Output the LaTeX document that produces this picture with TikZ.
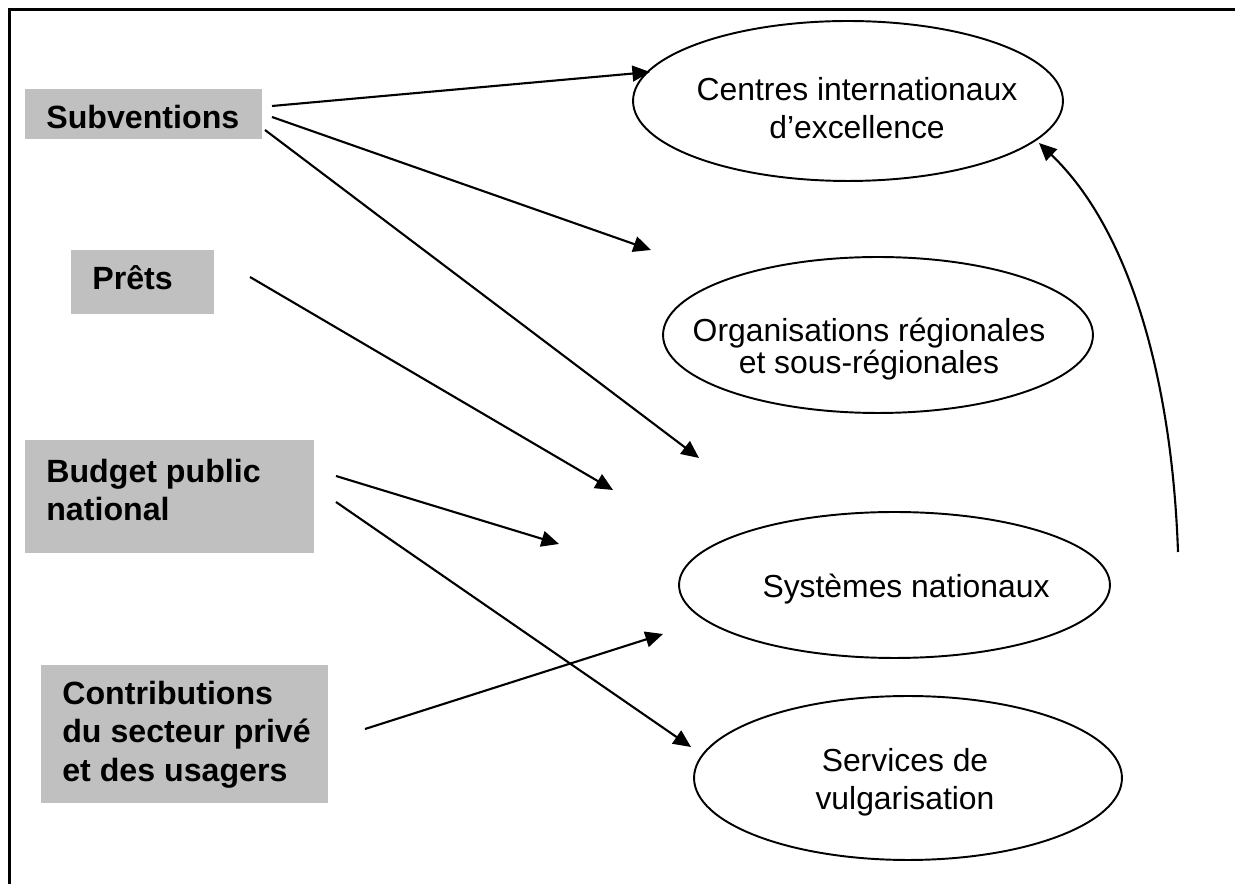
\documentclass[tikz,border=0pt]{standalone}
\usepackage{fontspec}
\setmainfont{Liberation Sans}
\usetikzlibrary{shapes.geometric,arrows.meta}
\definecolor{boxgray}{RGB}{192,192,192}
\tikzset{
  graybox/.style={fill=boxgray, draw=none, inner sep=0pt, outer sep=0pt},
  oval/.style={ellipse, draw=black, line width=1.1pt, inner sep=0pt, fill=white},
  btxt/.style={font=\fontsize{18.3}{21.8}\selectfont\bfseries, align=left, inner sep=0pt},
  otxt/.style={font=\fontsize{18.14}{21.5}\selectfont, align=center, inner sep=0pt},
  arr/.style={line width=1.2pt, -{Triangle[length=10pt,width=9pt]}},
}
\begin{document}
\begin{tikzpicture}[x=0.02cm,y=-0.02cm]
\useasboundingbox (0,0) rectangle (1235,884);
\clip (0,0) rectangle (1235,884);
\draw[line width=1.7pt] (9.5,9.5) rectangle (1260,910);

% gray boxes
\node[graybox, minimum width=4.74cm, minimum height=1.0cm] (sub) at (143.5,114) {};
\node[graybox, minimum width=2.86cm, minimum height=1.28cm] (prets) at (142.5,282) {};
\node[graybox, minimum width=5.78cm, minimum height=2.26cm] (budget) at (169.5,496.5) {};
\node[graybox, minimum width=5.74cm, minimum height=2.76cm] (contrib) at (184.5,734) {};

\node[btxt, anchor=base west] (subT) at (46,129) {Subventions};
\node[btxt, anchor=base west] (pretsT) at (92,290) {Prêts};
\node[btxt, anchor=north west] (budgetT) at (46,459) {Budget public\\national};
\node[btxt, anchor=north west] (contribT) at (62,681) {Contributions\\du secteur privé\\et des usagers};

% ellipses
\node[oval, minimum width=8.6cm, minimum height=3.2cm] (centres) at (848,101) {};
\node[oval, minimum width=8.6cm, minimum height=3.12cm] (org) at (878,335) {};
\node[oval, minimum width=8.62cm, minimum height=2.92cm] (sys) at (894.5,585) {};
\node[oval, minimum width=8.56cm, minimum height=3.28cm] (serv) at (908,778) {};

\node[otxt, anchor=north] (centresT) at (857,77) {Centres internationaux\\d’excellence};
\node[otxt, anchor=north, font=\fontsize{18.14}{16.2}\selectfont] (orgT) at (869,318) {Organisations régionales\\et sous-régionales};
\node[otxt, anchor=base] (sysT) at (906,598) {Systèmes nationaux};
\node[otxt, anchor=north] (servT) at (905,748) {Services de\\vulgarisation};

% connector end points
\coordinate (s1) at (272,106); \coordinate (e1) at (650,72);
\coordinate (s2) at (272,117); \coordinate (e2) at (651,250);
\coordinate (s3) at (265,130); \coordinate (e3) at (699,458);
\coordinate (s4) at (250,277); \coordinate (e4) at (613,490);
\coordinate (s5) at (336,476); \coordinate (e5) at (559,544);
\coordinate (s6) at (336,502); \coordinate (e6) at (691,747);
\coordinate (s7) at (365,729); \coordinate (e7) at (663,634);
\coordinate (q0) at (1178,552); \coordinate (q1) at (1039,143);

\draw[arr] (s1) -- (e1);
\draw[arr] (s2) -- (e2);
\draw[arr] (s3) -- (e3);
\draw[arr] (s4) -- (e4);
\draw[arr] (s5) -- (e5);
\draw[arr] (s6) -- (e6);
\draw[arr] (s7) -- (e7);
\draw[arr] (q0) .. controls (1172,380) and (1130,230) .. (q1);
\end{tikzpicture}
\end{document}
